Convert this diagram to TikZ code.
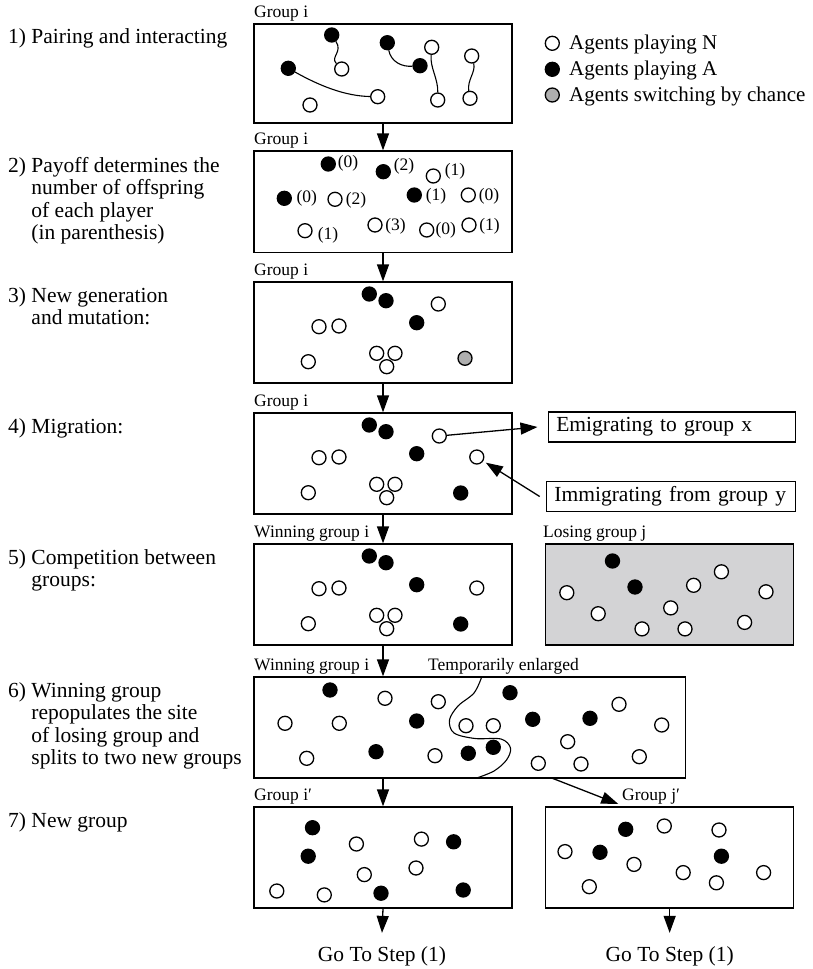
\documentclass[tikz,border=0pt]{standalone}
\usepackage{fontspec}
\setmainfont{Liberation Serif}
\usetikzlibrary{arrows.meta,calc}
\definecolor{boxgray}{RGB}{211,211,213}
\definecolor{dotgray}{RGB}{175,175,175}
\begin{document}
\begin{tikzpicture}[x=1pt,y=-1pt,
  wc/.style={circle,draw,fill=white,line width=1.3pt,minimum size=14pt,inner sep=0pt},
  bc/.style={wc,fill=black},
  gc/.style={wc,fill=dotgray},
  box/.style={draw,line width=1.3pt,inner sep=0pt},
  ebox/.style={draw,line width=1.5pt,minimum height=30pt,inner xsep=8pt,inner ysep=0pt,align=left,anchor=west,font=\fontsize{21.5}{22.5}\selectfont},
  arr/.style={line width=1.3pt,-{Triangle[length=17pt,width=12pt]}},
  lnk/.style={line width=1.1pt},
  steptxt/.style={font=\fontsize{21.5}{22.5}\selectfont,inner sep=0pt,anchor=base west},
  legtxt/.style={font=\fontsize{21}{22}\selectfont,inner sep=0pt,anchor=base west},
  grp/.style={font=\fontsize{17.5}{20}\selectfont,inner sep=0pt,anchor=base west},
  num/.style={font=\fontsize{17.5}{20}\selectfont,inner sep=0pt},
]
\useasboundingbox (0,0) rectangle (813,969);

% ---------- step labels ----------
\node[steptxt] (s1) at (8,43) {1) Pairing and interacting};
\node[steptxt] (s2) at (8,172) {\begin{tabular}[t]{@{}l@{ }l@{}}2) & Payoff determines the\\ & number of offspring\\ & of each player\\ & (in parenthesis)\end{tabular}};
\node[steptxt] (s3) at (8,302) {\begin{tabular}[t]{@{}l@{ }l@{}}3) & New generation\\ & and mutation:\end{tabular}};
\node[steptxt] (s4) at (8,433) {4) Migration:};
\node[steptxt] (s5) at (8,564) {\begin{tabular}[t]{@{}l@{ }l@{}}5) & Competition between\\ & groups:\end{tabular}};
\node[steptxt] (s6) at (8,697) {\begin{tabular}[t]{@{}l@{ }l@{}}6) & Winning group\\ & repopulates the site\\ & of losing group and\\ & splits to two new groups\end{tabular}};
\node[steptxt] (s7) at (8,827) {7) New group};

% ---------- group labels ----------
\node[grp] (g1) at (254,17.5) {Group i};
\node[grp] (g2) at (254,144) {Group i};
\node[grp] (g3) at (254,275) {Group i};
\node[grp] (g4) at (254,406) {Group i};
\node[grp] (g5) at (254,537) {Winning group i};
\node[grp] (g5r) at (543,537) {Losing group j};
\node[grp] (g6) at (254,670) {Winning group i};
\node[grp] (g6t) at (428,670) {Temporarily enlarged};
\node[grp] (g7) at (254,800) {Group i′};
\node[grp] (g7r) at (622,800) {Group j′};

% ---------- boxes ----------
\node[box,minimum width=258pt,minimum height=99pt] (b1) at (383,73.5) {};
\node[box,minimum width=258pt,minimum height=101.5pt] (b2) at (383,201.75) {};
\node[box,minimum width=258pt,minimum height=101pt] (b3) at (383,332.5) {};
\node[box,minimum width=258pt,minimum height=101pt] (b4) at (383,463.5) {};
\node[box,minimum width=258pt,minimum height=101pt] (b5) at (383,594.5) {};
\node[box,fill=boxgray,minimum width=248pt,minimum height=101pt] (b5r) at (669.65,594.5) {};
\node[box,minimum width=431.7pt,minimum height=101pt] (b6) at (469.85,727.5) {};
\node[box,minimum width=258pt,minimum height=101pt] (b7l) at (383,857.5) {};
\node[box,minimum width=248pt,minimum height=101pt] (b7r) at (669.65,857.5) {};

% ---------- legend ----------
\node[wc] (l1) at (552.3,43.3) {};
\node[legtxt] (lt1) at (569,49.8) {Agents playing N};
\node[bc] (l2) at (552.3,69.3) {};
\node[legtxt] (lt2) at (569,75.8) {Agents playing A};
\node[gc] (l3) at (552.3,95) {};
\node[legtxt] (lt3) at (569,101.5) {Agents switching by chance};

% ---------- box 1 ----------
\node[bc] (a1) at (331.7,35) {};
\node[wc] (a2) at (341.7,69) {};
\node[bc] (a3) at (387.3,42.7) {};
\node[bc] (a4) at (420,65.7) {};
\node[bc] (a5) at (288.3,68.3) {};
\node[wc] (a6) at (377.7,96.7) {};
\node[wc] (a7) at (431.7,47.3) {};
\node[wc] (a8) at (437.7,100) {};
\node[wc] (a9) at (471.7,56) {};
\node[wc] (a10) at (470,98.3) {};
\node[wc] (a11) at (310,105) {};
\draw[lnk] (a1) .. controls (343,52) and (330,57) .. (a2);
\draw[lnk] (a3) .. controls (391,62) and (402,67) .. (a4);
\draw[lnk] (a5) .. controls (320,86) and (345,96) .. (a6);
\draw[lnk] (a7) .. controls (430,68) and (438,78) .. (a8);
\draw[lnk] (a9) .. controls (476,72) and (467,80) .. (a10);

% ---------- box 2 ----------
\node[bc] (k1) at (328.3,164) {};
\node[num] (n1) at (348,163.5) {(0)};
\node[bc] (k2) at (383.3,171.7) {};
\node[num] (n2) at (404,166) {(2)};
\node[wc] (k3) at (433.3,176) {};
\node[num] (n3) at (455,171) {(1)};
\node[bc] (k4) at (284.3,198.3) {};
\node[num] (n4) at (306.7,198.3) {(0)};
\node[wc] (k5) at (335,199.3) {};
\node[num] (n5) at (356,200.5) {(2)};
\node[bc] (k6) at (414.3,195) {};
\node[num] (n6) at (436,196) {(1)};
\node[wc] (k7) at (468.3,195) {};
\node[num] (n7) at (489,196) {(0)};
\node[wc] (k8) at (305,230.7) {};
\node[num] (n8) at (328,235) {(1)};
\node[wc] (k9) at (375,225) {};
\node[num] (n9) at (395.5,226) {(3)};
\node[wc] (k10) at (426.7,230) {};
\node[num] (n10) at (445.7,230) {(0)};
\node[wc] (k11) at (469,225) {};
\node[num] (n11) at (489.5,226) {(1)};

% ---------- box 3 ----------
\node[bc] (c1) at (369.3,294) {};
\node[bc] (c2) at (386,300.7) {};
\node[wc] (c3) at (438.3,304) {};
\node[wc] (c4) at (319,326.7) {};
\node[wc] (c5) at (339,326) {};
\node[bc] (c6) at (416.7,322.7) {};
\node[wc] (c7) at (308.3,361.7) {};
\node[wc] (c8) at (376.7,353.3) {};
\node[wc] (c9) at (395,353.3) {};
\node[wc] (c10) at (386.7,366.7) {};
\node[gc] (c11) at (465,358.3) {};

% ---------- box 4 ----------
\node[bc] (h1) at (369.3,425) {};
\node[bc] (h2) at (386,431.7) {};
\node[wc] (h3) at (439.3,436) {};
\node[wc] (h4) at (319,457.7) {};
\node[wc] (h5) at (339,457) {};
\node[bc] (h6) at (416.7,453.7) {};
\node[wc] (h7) at (308.3,492.7) {};
\node[wc] (h8) at (376.7,484.3) {};
\node[wc] (h9) at (395,484.3) {};
\node[wc] (h10) at (386.7,497.7) {};
\node[bc] (h11) at (460.7,493) {};
\node[wc] (h12) at (476.8,457) {};
\node[ebox,text width=231pt] (emb) at (547.5,427) {Emigrating to group x};
\node[ebox,text width=233pt] (imb) at (545.7,496.5) {Immigrating from group y};
\draw[arr] (h3) -- ([xshift=-10pt]emb.west);
\draw[arr,shorten >=3pt] ([xshift=-6pt]imb.west) -- (h12);

% ---------- box 5 ----------
\node[bc] (m1) at (369.3,556) {};
\node[bc] (m2) at (386,562.7) {};
\node[wc] (m4) at (319,588.7) {};
\node[wc] (m5) at (339,588) {};
\node[bc] (m6) at (416.7,584.7) {};
\node[wc] (m7) at (308.3,623.7) {};
\node[wc] (m8) at (376.7,615.3) {};
\node[wc] (m9) at (395,615.3) {};
\node[wc] (m10) at (386.7,628.7) {};
\node[bc] (m11) at (460.7,624) {};
\node[wc] (m12) at (476.8,588) {};

\node[bc] (r1) at (612.5,561) {};
\node[bc] (r2) at (635,587) {};
\node[wc] (r3) at (566.8,592.7) {};
\node[wc] (r4) at (693.6,585.3) {};
\node[wc] (r5) at (721.4,571.8) {};
\node[wc] (r6) at (766,591.8) {};
\node[wc] (r7) at (598.2,613.7) {};
\node[wc] (r8) at (670.7,607.9) {};
\node[wc] (r9) at (642,628.9) {};
\node[wc] (r10) at (685,628.9) {};
\node[wc] (r11) at (744.6,622.4) {};

% ---------- box 6 ----------
\draw[lnk] plot[smooth,tension=0.55] coordinates {(481.7,677) (474,693) (458,706) (449.5,720) (454,733) (475,738.5) (501,739) (510.5,748) (506.5,760) (494,771) (476.7,778)};
\node[bc] (d1) at (330,690) {};
\node[wc] (d2) at (385,698.3) {};
\node[wc] (d3) at (438.3,701.7) {};
\node[wc] (d4) at (285,723.3) {};
\node[wc] (d5) at (339.3,723.3) {};
\node[bc] (d6) at (416.7,721) {};
\node[wc] (d7) at (466,725.7) {};
\node[wc] (d8) at (493.3,725.7) {};
\node[bc] (d9) at (510,692.7) {};
\node[bc] (d10) at (532.7,719.3) {};
\node[wc] (d11) at (306.7,758.3) {};
\node[bc] (d12) at (376,751.7) {};
\node[wc] (d13) at (435,755.7) {};
\node[bc] (d14) at (468.3,753.3) {};
\node[bc] (d15) at (493.3,747.3) {};
\node[wc] (d16) at (538.3,763.3) {};
\node[bc] (d17) at (590,718.3) {};
\node[wc] (d18) at (619,704.3) {};
\node[wc] (d19) at (661.7,725) {};
\node[wc] (d20) at (567.7,741.7) {};
\node[wc] (d21) at (581,764) {};
\node[wc] (d22) at (639.3,756.7) {};

% ---------- box 7 ----------
\node[bc] (e1) at (312.5,827.7) {};
\node[bc] (e2) at (308.2,856.2) {};
\node[wc] (e3) at (356.4,844) {};
\node[wc] (e4) at (421.4,839.1) {};
\node[bc] (e5) at (453.6,841.8) {};
\node[wc] (e6) at (364.3,874.6) {};
\node[wc] (e7) at (416,868) {};
\node[wc] (e8) at (276.8,891) {};
\node[wc] (e9) at (324.3,894.9) {};
\node[bc] (e10) at (381,893.2) {};
\node[bc] (e11) at (463.2,890) {};

\node[bc] (f1) at (625.7,829.3) {};
\node[wc] (f2) at (664.3,826) {};
\node[wc] (f3) at (719,830) {};
\node[wc] (f4) at (565,851.6) {};
\node[bc] (f5) at (600,852.3) {};
\node[wc] (f6) at (634,864.4) {};
\node[wc] (f7) at (683.2,872.6) {};
\node[bc] (f8) at (721.4,856.2) {};
\node[wc] (f9) at (763.6,872.6) {};
\node[wc] (f10) at (716.4,882.8) {};
\node[wc] (f11) at (589.3,886.7) {};

% ---------- go to ----------
\node[steptxt,anchor=base] (go1) at (382,961) {Go To Step (1)};
\node[steptxt,anchor=base] (go2) at (669.65,961) {Go To Step (1)};

% ---------- flow arrows ----------
\draw[arr] (b1.south) -- (b2.north);
\draw[arr] (b2.south) -- (b3.north);
\draw[arr] (b3.south) -- (b4.north);
\draw[arr] (b4.south) -- (b5.north);
\draw[arr] (b5.south) -- (b5.south |- b6.north);
\draw[arr] (b6.south -| b7l.north) -- (b7l.north);
\coordinate (sp) at (551.7,778);
\coordinate (jp) at (618.3,804);
\draw[arr] (sp) -- (jp);
\draw[arr] (b7l.south) -- ([yshift=13pt]go1.north);
\draw[arr] (b7r.south) -- ([yshift=13pt]go2.north);
\end{tikzpicture}
\end{document}
